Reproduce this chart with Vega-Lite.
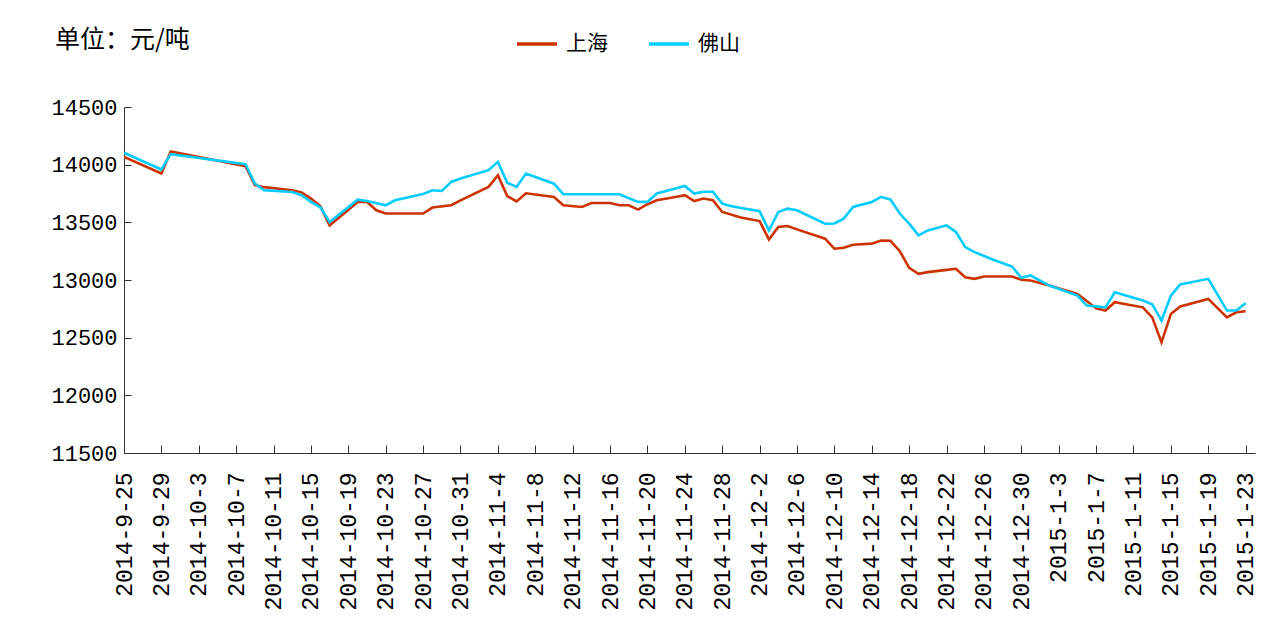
{
  "$schema": "https://vega.github.io/schema/vega-lite/v6.json",
  "autosize": {"type": "none"},
  "padding": {"left": 124, "top": 107, "right": 20, "bottom": 170},
  "width": 1131,
  "height": 346,
  "background": "white",
  "title": {
    "text": "单位：元/吨",
    "anchor": "start",
    "frame": "group",
    "font": "Noto Sans CJK SC",
    "fontSize": 25,
    "fontWeight": "normal",
    "color": "#000000",
    "dx": -69,
    "offset": -31
  },
  "config": {
    "view": {"stroke": null},
    "axis": {"grid": false, "domainColor": "#333333", "tickColor": "#333333", "labelColor": "#000000", "labelFont": "Liberation Mono"}
  },
  "data": {
    "values": [
      {"date": "2014-09-25", "city": "上海", "price": 14068},
      {"date": "2014-09-29", "city": "上海", "price": 13923},
      {"date": "2014-09-30", "city": "上海", "price": 14115},
      {"date": "2014-10-08", "city": "上海", "price": 13987},
      {"date": "2014-10-09", "city": "上海", "price": 13822},
      {"date": "2014-10-10", "city": "上海", "price": 13805},
      {"date": "2014-10-13", "city": "上海", "price": 13778},
      {"date": "2014-10-14", "city": "上海", "price": 13760},
      {"date": "2014-10-15", "city": "上海", "price": 13706},
      {"date": "2014-10-16", "city": "上海", "price": 13640},
      {"date": "2014-10-17", "city": "上海", "price": 13474},
      {"date": "2014-10-20", "city": "上海", "price": 13677},
      {"date": "2014-10-21", "city": "上海", "price": 13677},
      {"date": "2014-10-22", "city": "上海", "price": 13604},
      {"date": "2014-10-23", "city": "上海", "price": 13576},
      {"date": "2014-10-27", "city": "上海", "price": 13576},
      {"date": "2014-10-28", "city": "上海", "price": 13628},
      {"date": "2014-10-30", "city": "上海", "price": 13648},
      {"date": "2014-10-31", "city": "上海", "price": 13691},
      {"date": "2014-11-03", "city": "上海", "price": 13807},
      {"date": "2014-11-04", "city": "上海", "price": 13909},
      {"date": "2014-11-05", "city": "上海", "price": 13728},
      {"date": "2014-11-06", "city": "上海", "price": 13681},
      {"date": "2014-11-07", "city": "上海", "price": 13752},
      {"date": "2014-11-10", "city": "上海", "price": 13720},
      {"date": "2014-11-11", "city": "上海", "price": 13648},
      {"date": "2014-11-13", "city": "上海", "price": 13633},
      {"date": "2014-11-14", "city": "上海", "price": 13668},
      {"date": "2014-11-16", "city": "上海", "price": 13668},
      {"date": "2014-11-17", "city": "上海", "price": 13648},
      {"date": "2014-11-18", "city": "上海", "price": 13648},
      {"date": "2014-11-19", "city": "上海", "price": 13610},
      {"date": "2014-11-20", "city": "上海", "price": 13657},
      {"date": "2014-11-21", "city": "上海", "price": 13691},
      {"date": "2014-11-23", "city": "上海", "price": 13720},
      {"date": "2014-11-24", "city": "上海", "price": 13735},
      {"date": "2014-11-25", "city": "上海", "price": 13685},
      {"date": "2014-11-26", "city": "上海", "price": 13706},
      {"date": "2014-11-27", "city": "上海", "price": 13691},
      {"date": "2014-11-28", "city": "上海", "price": 13590},
      {"date": "2014-11-30", "city": "上海", "price": 13541},
      {"date": "2014-12-02", "city": "上海", "price": 13511},
      {"date": "2014-12-03", "city": "上海", "price": 13350},
      {"date": "2014-12-04", "city": "上海", "price": 13459},
      {"date": "2014-12-05", "city": "上海", "price": 13468},
      {"date": "2014-12-06", "city": "上海", "price": 13439},
      {"date": "2014-12-09", "city": "上海", "price": 13358},
      {"date": "2014-12-10", "city": "上海", "price": 13271},
      {"date": "2014-12-11", "city": "上海", "price": 13280},
      {"date": "2014-12-12", "city": "上海", "price": 13306},
      {"date": "2014-12-14", "city": "上海", "price": 13315},
      {"date": "2014-12-15", "city": "上海", "price": 13343},
      {"date": "2014-12-16", "city": "上海", "price": 13340},
      {"date": "2014-12-17", "city": "上海", "price": 13250},
      {"date": "2014-12-18", "city": "上海", "price": 13106},
      {"date": "2014-12-19", "city": "上海", "price": 13054},
      {"date": "2014-12-20", "city": "上海", "price": 13068},
      {"date": "2014-12-22", "city": "上海", "price": 13088},
      {"date": "2014-12-23", "city": "上海", "price": 13097},
      {"date": "2014-12-24", "city": "上海", "price": 13024},
      {"date": "2014-12-25", "city": "上海", "price": 13010},
      {"date": "2014-12-26", "city": "上海", "price": 13030},
      {"date": "2014-12-29", "city": "上海", "price": 13030},
      {"date": "2014-12-30", "city": "上海", "price": 13002},
      {"date": "2014-12-31", "city": "上海", "price": 12996},
      {"date": "2015-01-02", "city": "上海", "price": 12952},
      {"date": "2015-01-05", "city": "上海", "price": 12880},
      {"date": "2015-01-07", "city": "上海", "price": 12755},
      {"date": "2015-01-08", "city": "上海", "price": 12735},
      {"date": "2015-01-09", "city": "上海", "price": 12807},
      {"date": "2015-01-12", "city": "上海", "price": 12763},
      {"date": "2015-01-13", "city": "上海", "price": 12676},
      {"date": "2015-01-14", "city": "上海", "price": 12459},
      {"date": "2015-01-15", "city": "上海", "price": 12706},
      {"date": "2015-01-16", "city": "上海", "price": 12770},
      {"date": "2015-01-19", "city": "上海", "price": 12836},
      {"date": "2015-01-21", "city": "上海", "price": 12676},
      {"date": "2015-01-22", "city": "上海", "price": 12720},
      {"date": "2015-01-23", "city": "上海", "price": 12729},
      {"date": "2014-09-25", "city": "佛山", "price": 14103},
      {"date": "2014-09-29", "city": "佛山", "price": 13958},
      {"date": "2014-09-30", "city": "佛山", "price": 14091},
      {"date": "2014-10-08", "city": "佛山", "price": 14004},
      {"date": "2014-10-09", "city": "佛山", "price": 13836},
      {"date": "2014-10-10", "city": "佛山", "price": 13778},
      {"date": "2014-10-13", "city": "佛山", "price": 13763},
      {"date": "2014-10-14", "city": "佛山", "price": 13735},
      {"date": "2014-10-15", "city": "佛山", "price": 13677},
      {"date": "2014-10-16", "city": "佛山", "price": 13630},
      {"date": "2014-10-17", "city": "佛山", "price": 13503},
      {"date": "2014-10-20", "city": "佛山", "price": 13697},
      {"date": "2014-10-21", "city": "佛山", "price": 13685},
      {"date": "2014-10-23", "city": "佛山", "price": 13648},
      {"date": "2014-10-24", "city": "佛山", "price": 13691},
      {"date": "2014-10-27", "city": "佛山", "price": 13745},
      {"date": "2014-10-28", "city": "佛山", "price": 13778},
      {"date": "2014-10-29", "city": "佛山", "price": 13772},
      {"date": "2014-10-30", "city": "佛山", "price": 13850},
      {"date": "2014-10-31", "city": "佛山", "price": 13880},
      {"date": "2014-11-03", "city": "佛山", "price": 13952},
      {"date": "2014-11-04", "city": "佛山", "price": 14024},
      {"date": "2014-11-05", "city": "佛山", "price": 13843},
      {"date": "2014-11-06", "city": "佛山", "price": 13807},
      {"date": "2014-11-07", "city": "佛山", "price": 13923},
      {"date": "2014-11-10", "city": "佛山", "price": 13835},
      {"date": "2014-11-11", "city": "佛山", "price": 13743},
      {"date": "2014-11-17", "city": "佛山", "price": 13743},
      {"date": "2014-11-19", "city": "佛山", "price": 13677},
      {"date": "2014-11-20", "city": "佛山", "price": 13677},
      {"date": "2014-11-21", "city": "佛山", "price": 13750},
      {"date": "2014-11-24", "city": "佛山", "price": 13815},
      {"date": "2014-11-25", "city": "佛山", "price": 13750},
      {"date": "2014-11-26", "city": "佛山", "price": 13765},
      {"date": "2014-11-27", "city": "佛山", "price": 13765},
      {"date": "2014-11-28", "city": "佛山", "price": 13662},
      {"date": "2014-11-29", "city": "佛山", "price": 13639},
      {"date": "2014-12-02", "city": "佛山", "price": 13596},
      {"date": "2014-12-03", "city": "佛山", "price": 13430},
      {"date": "2014-12-04", "city": "佛山", "price": 13590},
      {"date": "2014-12-05", "city": "佛山", "price": 13619},
      {"date": "2014-12-06", "city": "佛山", "price": 13604},
      {"date": "2014-12-09", "city": "佛山", "price": 13488},
      {"date": "2014-12-10", "city": "佛山", "price": 13490},
      {"date": "2014-12-11", "city": "佛山", "price": 13532},
      {"date": "2014-12-12", "city": "佛山", "price": 13633},
      {"date": "2014-12-14", "city": "佛山", "price": 13677},
      {"date": "2014-12-15", "city": "佛山", "price": 13720},
      {"date": "2014-12-16", "city": "佛山", "price": 13697},
      {"date": "2014-12-17", "city": "佛山", "price": 13576},
      {"date": "2014-12-18", "city": "佛山", "price": 13488},
      {"date": "2014-12-19", "city": "佛山", "price": 13387},
      {"date": "2014-12-20", "city": "佛山", "price": 13430},
      {"date": "2014-12-22", "city": "佛山", "price": 13474},
      {"date": "2014-12-23", "city": "佛山", "price": 13416},
      {"date": "2014-12-24", "city": "佛山", "price": 13285},
      {"date": "2014-12-25", "city": "佛山", "price": 13242},
      {"date": "2014-12-27", "city": "佛山", "price": 13176},
      {"date": "2014-12-29", "city": "佛山", "price": 13117},
      {"date": "2014-12-30", "city": "佛山", "price": 13019},
      {"date": "2014-12-31", "city": "佛山", "price": 13039},
      {"date": "2015-01-02", "city": "佛山", "price": 12952},
      {"date": "2015-01-05", "city": "佛山", "price": 12865},
      {"date": "2015-01-06", "city": "佛山", "price": 12778},
      {"date": "2015-01-08", "city": "佛山", "price": 12763},
      {"date": "2015-01-09", "city": "佛山", "price": 12894},
      {"date": "2015-01-12", "city": "佛山", "price": 12822},
      {"date": "2015-01-13", "city": "佛山", "price": 12790},
      {"date": "2015-01-14", "city": "佛山", "price": 12648},
      {"date": "2015-01-15", "city": "佛山", "price": 12865},
      {"date": "2015-01-16", "city": "佛山", "price": 12961},
      {"date": "2015-01-19", "city": "佛山", "price": 13010},
      {"date": "2015-01-21", "city": "佛山", "price": 12735},
      {"date": "2015-01-22", "city": "佛山", "price": 12735},
      {"date": "2015-01-23", "city": "佛山", "price": 12798}
    ]
  },
  "mark": {"type": "line", "strokeWidth": 2.6, "clip": true},
  "encoding": {
    "x": {
      "field": "date",
      "type": "temporal",
      "scale": {
        "type": "utc",
        "domain": [
          {"year": 2014, "month": 9, "date": 25, "utc": true},
          {"year": 2015, "month": 1, "date": 24, "utc": true}
        ]
      },
      "axis": {
        "title": null,
        "format": "%Y-%-m-%-d",
        "labelAngle": -90,
        "labelFontSize": 23,
        "labelOverlap": false,
        "labelBound": false,
        "labelFlush": false,
        "tickSize": -8,
        "labelPadding": 27,
        "values": [
          {"year": 2014, "month": 9, "date": 25, "utc": true},
          {"year": 2014, "month": 9, "date": 29, "utc": true},
          {"year": 2014, "month": 10, "date": 3, "utc": true},
          {"year": 2014, "month": 10, "date": 7, "utc": true},
          {"year": 2014, "month": 10, "date": 11, "utc": true},
          {"year": 2014, "month": 10, "date": 15, "utc": true},
          {"year": 2014, "month": 10, "date": 19, "utc": true},
          {"year": 2014, "month": 10, "date": 23, "utc": true},
          {"year": 2014, "month": 10, "date": 27, "utc": true},
          {"year": 2014, "month": 10, "date": 31, "utc": true},
          {"year": 2014, "month": 11, "date": 4, "utc": true},
          {"year": 2014, "month": 11, "date": 8, "utc": true},
          {"year": 2014, "month": 11, "date": 12, "utc": true},
          {"year": 2014, "month": 11, "date": 16, "utc": true},
          {"year": 2014, "month": 11, "date": 20, "utc": true},
          {"year": 2014, "month": 11, "date": 24, "utc": true},
          {"year": 2014, "month": 11, "date": 28, "utc": true},
          {"year": 2014, "month": 12, "date": 2, "utc": true},
          {"year": 2014, "month": 12, "date": 6, "utc": true},
          {"year": 2014, "month": 12, "date": 10, "utc": true},
          {"year": 2014, "month": 12, "date": 14, "utc": true},
          {"year": 2014, "month": 12, "date": 18, "utc": true},
          {"year": 2014, "month": 12, "date": 22, "utc": true},
          {"year": 2014, "month": 12, "date": 26, "utc": true},
          {"year": 2014, "month": 12, "date": 30, "utc": true},
          {"year": 2015, "month": 1, "date": 3, "utc": true},
          {"year": 2015, "month": 1, "date": 7, "utc": true},
          {"year": 2015, "month": 1, "date": 11, "utc": true},
          {"year": 2015, "month": 1, "date": 15, "utc": true},
          {"year": 2015, "month": 1, "date": 19, "utc": true},
          {"year": 2015, "month": 1, "date": 23, "utc": true}
        ]
      }
    },
    "y": {
      "field": "price",
      "type": "quantitative",
      "scale": {"domain": [11500, 14500], "zero": false, "nice": false},
      "axis": {
        "title": null,
        "values": [11500, 12000, 12500, 13000, 13500, 14000, 14500],
        "format": "d",
        "labelFontSize": 22,
        "tickSize": -7,
        "labelPadding": 14
      }
    },
    "color": {
      "field": "city",
      "type": "nominal",
      "scale": {"domain": ["上海", "佛山"], "range": ["#CC3300", "#00CCFF"]},
      "legend": {
        "title": null,
        "orient": "none",
        "legendX": 391,
        "legendY": -85,
        "direction": "horizontal",
        "symbolType": "stroke",
        "symbolSize": 1600,
        "symbolStrokeWidth": 3.5,
        "labelFont": "Noto Sans CJK SC",
        "labelFontSize": 21,
        "labelColor": "#000000",
        "labelOffset": 7,
        "columnPadding": 34,
        "padding": 0
      }
    }
  }
}
